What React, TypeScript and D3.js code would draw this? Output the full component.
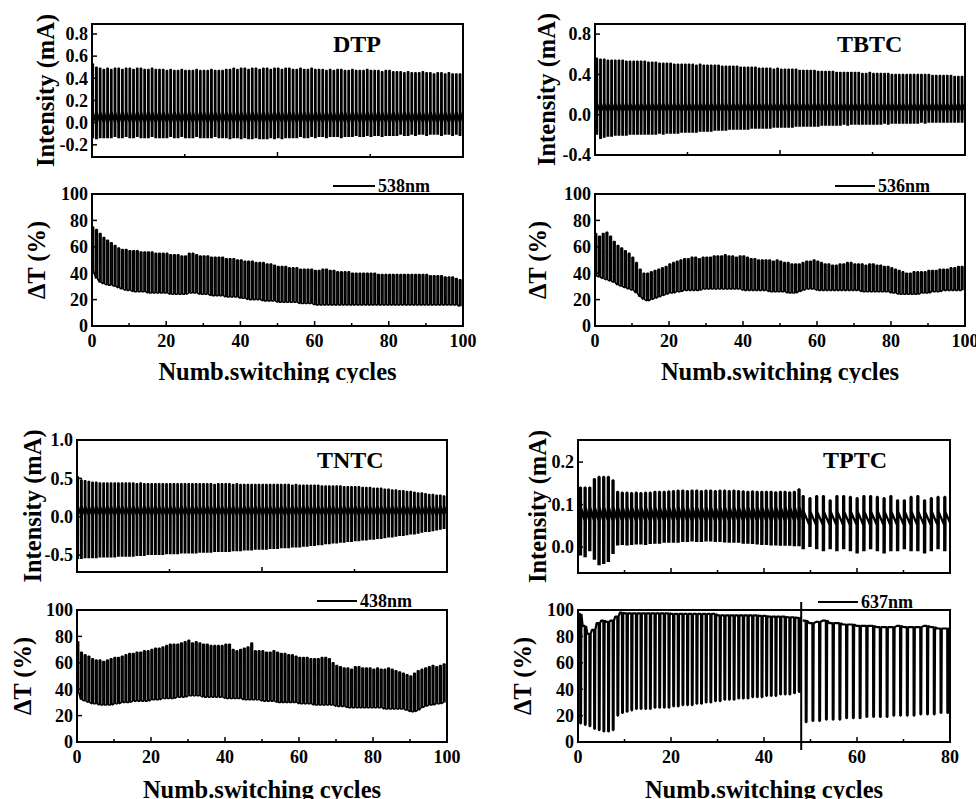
import React from 'react';
import * as d3 from 'd3';

const W = 976;
const H = 799;
const FONT = "'Liberation Serif', 'Times New Roman', serif";

// ---- DTP (538nm) ----
const dtpPeak = [0.53,0.50,0.49,0.48,0.49,0.48,0.49,0.49,0.48,0.49,
  0.49,0.48,0.49,0.49,0.48,0.48,0.49,0.48,0.48,0.48,
  0.47,0.48,0.47,0.47,0.48,0.47,0.47,0.47,0.48,0.47,
  0.47,0.47,0.48,0.47,0.47,0.47,0.48,0.48,0.49,0.48,
  0.49,0.49,0.48,0.49,0.49,0.48,0.49,0.49,0.48,0.49,
  0.49,0.48,0.49,0.49,0.48,0.48,0.49,0.48,0.48,0.49,
  0.48,0.48,0.48,0.47,0.48,0.47,0.48,0.48,0.47,0.47,
  0.48,0.47,0.47,0.47,0.48,0.47,0.47,0.47,0.46,0.47,
  0.47,0.46,0.46,0.46,0.45,0.46,0.45,0.45,0.45,0.46,
  0.45,0.45,0.44,0.45,0.45,0.44,0.45,0.44,0.44,0.44];
const dtpTrough = [-0.14,-0.15,-0.14,-0.14,-0.14,-0.14,-0.13,-0.14,-0.14,-0.13,
  -0.14,-0.14,-0.13,-0.14,-0.14,-0.14,-0.13,-0.14,-0.14,-0.14,
  -0.14,-0.13,-0.14,-0.14,-0.13,-0.14,-0.14,-0.14,-0.13,-0.14,
  -0.14,-0.14,-0.14,-0.13,-0.14,-0.14,-0.14,-0.15,-0.14,-0.14,
  -0.15,-0.14,-0.15,-0.15,-0.14,-0.15,-0.15,-0.15,-0.14,-0.15,
  -0.14,-0.15,-0.14,-0.14,-0.14,-0.14,-0.13,-0.14,-0.14,-0.13,
  -0.14,-0.13,-0.13,-0.14,-0.13,-0.13,-0.13,-0.14,-0.13,-0.13,
  -0.13,-0.12,-0.13,-0.13,-0.12,-0.13,-0.12,-0.12,-0.13,-0.12,
  -0.12,-0.12,-0.12,-0.11,-0.12,-0.12,-0.11,-0.12,-0.11,-0.11,
  -0.12,-0.11,-0.11,-0.11,-0.12,-0.11,-0.11,-0.12,-0.11,-0.12];
const dtpHigh = [75,73,70,67,65,63,61,59,58,58,
  57,57,57,56,56,56,56,55,55,55,
  55,54,54,54,53,53,55,55,54,53,
  53,53,52,52,52,52,51,51,51,50,
  50,49,49,49,48,48,48,47,47,46,
  45,45,45,44,44,44,43,43,43,43,
  42,42,43,43,42,42,41,41,41,41,
  40,40,40,40,40,40,40,39,39,39,
  39,39,39,39,39,39,39,39,39,39,
  39,38,38,38,38,37,37,37,36,35];
const dtpLow = [42,36,33,32,31,31,30,29,28,27,
  27,26,26,26,26,25,25,25,25,25,
  25,24,24,24,24,24,25,25,25,24,
  24,24,23,23,23,23,22,22,22,22,
  21,21,20,20,20,20,19,19,19,19,
  18,18,18,18,18,18,17,17,17,17,
  16,16,16,16,16,16,16,16,16,16,
  16,16,16,16,16,16,16,16,16,16,
  16,16,16,16,16,16,16,16,16,16,
  16,16,16,16,16,16,16,16,16,15];

// ---- TBTC (536nm) ----
const tbtcPeak = [0.56,0.55,0.55,0.54,0.54,0.54,0.54,0.54,0.53,0.53,
  0.53,0.53,0.53,0.53,0.52,0.52,0.52,0.51,0.51,0.51,
  0.51,0.50,0.50,0.50,0.50,0.50,0.50,0.49,0.50,0.49,
  0.49,0.49,0.49,0.49,0.48,0.48,0.48,0.48,0.48,0.47,
  0.47,0.47,0.47,0.47,0.46,0.46,0.46,0.46,0.45,0.46,
  0.45,0.45,0.45,0.45,0.45,0.44,0.44,0.44,0.44,0.44,
  0.43,0.43,0.43,0.43,0.43,0.42,0.42,0.42,0.42,0.42,
  0.42,0.42,0.41,0.41,0.42,0.41,0.41,0.41,0.41,0.41,
  0.40,0.40,0.40,0.40,0.40,0.40,0.40,0.40,0.40,0.40,
  0.40,0.39,0.39,0.39,0.39,0.39,0.39,0.38,0.38,0.38];
const tbtcTrough = [-0.20,-0.24,-0.23,-0.22,-0.22,-0.21,-0.21,-0.21,-0.21,-0.20,
  -0.20,-0.20,-0.20,-0.20,-0.20,-0.20,-0.20,-0.19,-0.20,-0.19,
  -0.19,-0.19,-0.19,-0.18,-0.18,-0.18,-0.18,-0.18,-0.17,-0.17,
  -0.17,-0.17,-0.16,-0.16,-0.16,-0.16,-0.15,-0.15,-0.15,-0.15,
  -0.15,-0.15,-0.14,-0.14,-0.14,-0.14,-0.14,-0.14,-0.13,-0.13,
  -0.13,-0.13,-0.13,-0.13,-0.12,-0.12,-0.12,-0.12,-0.12,-0.12,
  -0.12,-0.11,-0.11,-0.11,-0.11,-0.11,-0.11,-0.10,-0.11,-0.10,
  -0.10,-0.10,-0.10,-0.10,-0.10,-0.10,-0.10,-0.10,-0.09,-0.10,
  -0.09,-0.09,-0.09,-0.09,-0.09,-0.09,-0.09,-0.09,-0.08,-0.09,
  -0.08,-0.08,-0.08,-0.08,-0.08,-0.08,-0.08,-0.08,-0.08,-0.08];
const tbtcHigh = [70,68,70,71,68,64,61,59,57,55,
  52,48,43,40,40,41,42,43,44,45,
  47,48,49,50,51,51,52,52,51,52,
  52,52,53,53,53,54,53,53,52,53,
  53,52,51,51,50,50,50,50,49,50,
  49,48,48,47,47,47,48,49,49,50,
  49,48,47,47,46,46,47,47,48,48,
  47,47,47,46,47,47,46,46,45,45,
  44,43,42,41,40,40,41,41,41,41,
  42,42,42,43,43,43,44,44,45,45];
const tbtcLow = [38,37,36,35,34,33,31,30,29,28,
  27,25,22,20,19,20,21,22,23,24,
  25,25,26,26,27,27,27,27,27,28,
  28,28,28,28,28,28,28,28,28,28,
  27,27,27,27,27,27,27,26,26,26,
  26,26,25,25,25,26,27,28,28,28,
  27,27,27,27,27,27,27,27,27,27,
  27,27,26,26,26,26,26,26,26,26,
  25,25,24,24,24,24,24,24,25,25,
  25,26,26,26,27,27,27,27,27,27];

// ---- TNTC (438nm) ----
const tntcPeak = [0.52,0.48,0.47,0.46,0.45,0.45,0.44,0.44,0.44,0.44,
  0.44,0.44,0.44,0.44,0.44,0.44,0.43,0.44,0.43,0.43,
  0.43,0.43,0.43,0.43,0.43,0.43,0.43,0.43,0.43,0.43,
  0.43,0.43,0.43,0.43,0.43,0.43,0.43,0.42,0.43,0.43,
  0.43,0.43,0.42,0.43,0.42,0.42,0.42,0.42,0.42,0.42,
  0.42,0.42,0.42,0.42,0.42,0.42,0.42,0.42,0.41,0.42,
  0.41,0.41,0.41,0.41,0.41,0.41,0.40,0.40,0.40,0.40,
  0.40,0.40,0.39,0.39,0.39,0.39,0.39,0.38,0.38,0.38,
  0.37,0.37,0.37,0.36,0.36,0.35,0.35,0.34,0.34,0.33,
  0.33,0.32,0.31,0.31,0.30,0.29,0.29,0.28,0.28,0.27];
const tntcTrough = [-0.55,-0.55,-0.54,-0.54,-0.54,-0.54,-0.53,-0.53,-0.53,-0.53,
  -0.53,-0.52,-0.52,-0.52,-0.52,-0.52,-0.51,-0.51,-0.51,-0.50,
  -0.50,-0.50,-0.50,-0.50,-0.49,-0.49,-0.49,-0.49,-0.48,-0.48,
  -0.48,-0.48,-0.48,-0.47,-0.47,-0.47,-0.47,-0.46,-0.46,-0.46,
  -0.46,-0.46,-0.45,-0.45,-0.45,-0.44,-0.44,-0.44,-0.43,-0.43,
  -0.43,-0.43,-0.42,-0.42,-0.42,-0.41,-0.41,-0.41,-0.40,-0.40,
  -0.40,-0.39,-0.39,-0.38,-0.38,-0.37,-0.37,-0.36,-0.36,-0.35,
  -0.35,-0.34,-0.34,-0.33,-0.33,-0.32,-0.32,-0.31,-0.31,-0.30,
  -0.30,-0.29,-0.29,-0.28,-0.27,-0.27,-0.26,-0.25,-0.25,-0.24,
  -0.23,-0.23,-0.22,-0.21,-0.20,-0.20,-0.19,-0.18,-0.17,-0.16];
const tntcHigh = [76,68,66,65,63,62,62,61,62,63,
  64,64,65,66,67,67,68,68,69,69,
  70,71,71,72,73,74,74,74,75,76,
  77,75,76,75,74,74,73,73,73,73,
  74,74,70,69,70,71,72,75,69,69,
  69,68,68,69,68,67,67,66,66,65,
  64,64,64,63,63,63,64,64,63,60,
  58,57,56,56,55,57,57,56,56,56,
  55,56,55,55,56,55,54,53,52,51,
  50,52,54,55,56,57,58,57,58,59];
const tntcLow = [38,32,31,30,29,29,28,28,28,28,
  29,29,30,30,30,31,31,31,31,31,
  32,32,32,33,33,33,33,34,34,34,
  35,35,35,35,34,34,34,34,34,34,
  33,33,33,33,33,32,32,32,32,32,
  31,31,31,31,30,30,30,30,30,30,
  29,29,29,29,28,28,28,28,28,28,
  27,27,27,26,26,26,26,26,26,26,
  26,26,26,25,25,25,25,25,25,24,
  23,23,24,26,27,28,28,29,29,30];

// ---- TPTC (637nm), two runs split at cycle 48 ----
const tptcPeakA = [0.14,0.14,0.14,0.16,0.165,0.165,0.165,0.157,0.13,0.128,
  0.128,0.127,0.128,0.127,0.128,0.128,0.13,0.13,0.13,0.131,
  0.132,0.133,0.133,0.132,0.133,0.133,0.132,0.133,0.133,0.132,
  0.133,0.133,0.132,0.133,0.132,0.131,0.13,0.131,0.13,0.13,
  0.13,0.13,0.129,0.13,0.13,0.129,0.13,0.136];
const tptcTroughA = [-0.02,-0.024,-0.01,-0.03,-0.043,-0.04,-0.035,-0.016,0.004,0.005,
  0.004,0.005,0.006,0.006,0.005,0.007,0.008,0.008,0.01,0.01,
  0.01,0.01,0.012,0.012,0.013,0.012,0.012,0.013,0.013,0.012,
  0.012,0.011,0.01,0.01,0.01,0.008,0.008,0.007,0.006,0.005,
  0.005,0.004,0.004,0.003,0.003,0.003,0.002,0.002];
const tptcPeakB = [0.12,0.115,0.12,0.12,0.11,0.12,0.12,0.118,0.115,0.12,0.12,
  0.118,0.115,0.12,0.11,0.11,0.118,0.12,0.11,0.115,0.118,0.118];
const tptcTroughB = [-0.005,0.0,-0.005,-0.01,-0.005,-0.01,-0.005,-0.01,-0.015,-0.01,-0.005,
  -0.01,-0.015,-0.01,-0.01,-0.005,-0.01,-0.01,-0.015,-0.01,-0.005,-0.01];
const tptcHighA = [97,88,82,85,90,92,91,92,95,98,
  97.5,97.5,97.5,97.5,97.5,97.5,97.5,97.5,97.5,97.5,
  97,97,97,97,97,97,97,97,97,97,
  96,96,96,96,96,96,96,96,96,95.5,
  95.5,95,95,95,95,94.5,94.5,94];
const tptcLowA = [14,13,12,10,9,8,8,9,20,22,
  23,24,25,25,25,25,26,26,26,26,
  27,27,28,28,28,29,29,30,30,31,
  31,32,32,32,33,33,33,34,34,34,
  35,35,35,36,36,36,37,38];
const tptcHighB = [92,90,91,92,90,90,89,89,88,88,88,87,87,87,88,87,87,87,88,87,86,86];
const tptcLowB = [15,16,16,17,17,17,18,18,18,19,19,19,19,20,20,20,20,21,21,21,22,22];
const tptcSwitch = 48;

type Pt = [number, number];
type Run = { start: number; step: number; up: number[]; down: number[]; bHi?: number; bLo?: number };
type Frame = { x0: number; x1: number; y0: number; y1: number };

// intensity: bipolar spike per cycle, trace settles back on a baseline band
function spikes(r: Run, w: number): Pt[] {
  const pts: Pt[] = [];
  r.up.forEach((p, k) => {
    const x = r.start + k * r.step;
    const t = r.down[k];
    pts.push([x, r.bLo!], [x, t], [x + 0.01, p], [x + w, p], [x + w + 0.01, t], [x + w + 0.05, r.bHi!]);
  });
  pts.push([r.start + r.up.length * r.step, r.bLo!]);
  return pts;
}

// transmittance: bleached/colored square steps
function steps(r: Run, w: number): Pt[] {
  const pts: Pt[] = [];
  r.up.forEach((hi, k) => {
    const x = r.start + k * r.step;
    const lo = r.down[k];
    pts.push([x, lo], [x, hi], [x + w, hi], [x + w, lo]);
  });
  return pts;
}

// transmittance with short dips (TPTC)
function dips(r: Run, w: number): Pt[] {
  const pts: Pt[] = [];
  r.up.forEach((hi, k) => {
    const x = r.start + k * r.step;
    const a = r.step * 0.45;
    pts.push([x, hi], [x + a, hi], [x + a + 0.03, r.down[k]], [x + a + w, r.down[k]], [x + a + w + 0.08, hi]);
  });
  pts.push([r.start + r.up.length * r.step, r.up[r.up.length - 1]]);
  return pts;
}

interface Panel {
  id: string;
  f: Frame;
  xDomain: [number, number];
  yDomain: [number, number];
  yTicks: number[];
  yFmt: (v: number) => string;
  xMajor: number[];
  xMinor: number[];
  xLabels: boolean;
  paths: Pt[][];
  stroke: number;
  yTitle: string;
  yTitleX: number;
  xTitle?: { y: number; clip?: number };
  title?: { text: string; x: number; y: number };
  legend?: { text: string; x0: number; x1: number; y: number };
  vline?: { x: number; y0: number; y1: number };
}

const f1 = (v: number) => v.toFixed(1);
const f0 = (v: number) => String(v);

const panels: Panel[] = [
  {
    id: 'dtpI', f: { x0: 92, x1: 463, y0: 24, y1: 157 }, xDomain: [0, 100], yDomain: [-0.31, 0.89],
    yTicks: [-0.2, 0, 0.2, 0.4, 0.6, 0.8], yFmt: f1, xMajor: [50], xMinor: [25, 75], xLabels: false,
    paths: [spikes({ start: 0, step: 1, up: dtpPeak, down: dtpTrough, bHi: 0.09, bLo: 0.0 }, 0.38)],
    stroke: 1.45,
    yTitle: 'Intensity (mA)', yTitleX: 45, title: { text: 'DTP', x: 333, y: 52 },
  },
  {
    id: 'dtpT', f: { x0: 92, x1: 463, y0: 194, y1: 326 }, xDomain: [0, 100], yDomain: [0, 100],
    yTicks: [0, 20, 40, 60, 80, 100], yFmt: f0, xMajor: [0, 20, 40, 60, 80, 100], xMinor: [10, 30, 50, 70, 90], xLabels: true,
    paths: [steps({ start: 0, step: 1, up: dtpHigh, down: dtpLow }, 0.44)],
    stroke: 1.6,
    yTitle: 'ΔT (%)', yTitleX: 36.5, xTitle: { y: 380, clip: 383 },
    legend: { text: '538nm', x0: 333, x1: 375, y: 186 },
  },
  {
    id: 'tbtcI', f: { x0: 595, x1: 965, y0: 24, y1: 155 }, xDomain: [0, 100], yDomain: [-0.4, 0.9],
    yTicks: [-0.4, 0, 0.4, 0.8], yFmt: f1, xMajor: [50], xMinor: [25, 75], xLabels: false,
    paths: [spikes({ start: 0.3, step: 0.997, up: tbtcPeak, down: tbtcTrough, bHi: 0.11, bLo: 0.03 }, 0.38)],
    stroke: 1.45,
    yTitle: 'Intensity (mA)', yTitleX: 546, title: { text: 'TBTC', x: 837, y: 52 },
  },
  {
    id: 'tbtcT', f: { x0: 595, x1: 965, y0: 194, y1: 326 }, xDomain: [0, 100], yDomain: [0, 100],
    yTicks: [0, 20, 40, 60, 80, 100], yFmt: f0, xMajor: [0, 20, 40, 60, 80, 100], xMinor: [10, 30, 50, 70, 90], xLabels: true,
    paths: [steps({ start: 0, step: 1, up: tbtcHigh, down: tbtcLow }, 0.44)],
    stroke: 1.6,
    yTitle: 'ΔT (%)', yTitleX: 537, xTitle: { y: 380, clip: 383 },
    legend: { text: '536nm', x0: 835, x1: 875, y: 186 },
  },
  {
    id: 'tntcI', f: { x0: 77, x1: 447, y0: 440, y1: 572 }, xDomain: [0, 100], yDomain: [-0.72, 1.0],
    yTicks: [-0.5, 0, 0.5, 1.0], yFmt: f1, xMajor: [50], xMinor: [25, 75], xLabels: false,
    paths: [spikes({ start: 0, step: 1, up: tntcPeak, down: tntcTrough, bHi: 0.13, bLo: 0.02 }, 0.38)],
    stroke: 1.45,
    yTitle: 'Intensity (mA)', yTitleX: 32, title: { text: 'TNTC', x: 317, y: 468 },
  },
  {
    id: 'tntcT', f: { x0: 77, x1: 447, y0: 610, y1: 742 }, xDomain: [0, 100], yDomain: [0, 100],
    yTicks: [0, 20, 40, 60, 80, 100], yFmt: f0, xMajor: [0, 20, 40, 60, 80, 100], xMinor: [10, 30, 50, 70, 90], xLabels: true,
    paths: [steps({ start: 0, step: 1, up: tntcHigh, down: tntcLow }, 0.44)],
    stroke: 1.6,
    yTitle: 'ΔT (%)', yTitleX: 22.5, xTitle: { y: 798 },
    legend: { text: '438nm', x0: 317, x1: 357, y: 601 },
  },
  {
    id: 'tptcI', f: { x0: 578, x1: 950, y0: 440, y1: 573 }, xDomain: [0, 80], yDomain: [-0.061, 0.252],
    yTicks: [0, 0.1, 0.2], yFmt: f1, xMajor: [20, 40, 60], xMinor: [10, 30, 50, 70], xLabels: false,
    paths: [
      spikes({ start: 0.4, step: 1, up: tptcPeakA, down: tptcTroughA, bHi: 0.092, bLo: 0.062 }, 0.25),
      spikes({ start: 48.3, step: 1.45, up: tptcPeakB, down: tptcTroughB, bHi: 0.082, bLo: 0.052 }, 0.25),
    ],
    stroke: 2.2,
    yTitle: 'Intensity (mA)', yTitleX: 537, title: { text: 'TPTC', x: 823, y: 468 },
  },
  {
    id: 'tptcT', f: { x0: 578, x1: 950, y0: 610, y1: 742 }, xDomain: [0, 80], yDomain: [0, 100],
    yTicks: [0, 20, 40, 60, 80, 100], yFmt: f0, xMajor: [0, 20, 40, 60, 80], xMinor: [10, 30, 50, 70], xLabels: true,
    paths: [
      dips({ start: 0, step: 1, up: tptcHighA, down: tptcLowA }, 0.2),
      dips({ start: 48.3, step: 1.45, up: tptcHighB, down: tptcLowB }, 0.2),
    ],
    stroke: 2.2,
    yTitle: 'ΔT (%)', yTitleX: 522.5, xTitle: { y: 798 },
    legend: { text: '637nm', x0: 818, x1: 858, y: 602 },
    vline: { x: tptcSwitch, y0: 602, y1: 750 },
  },
];

const txt = { fontFamily: FONT, fontWeight: 'bold' as const };

function PanelView({ p }: { p: Panel }) {
  const { f } = p;
  const x = d3.scaleLinear().domain(p.xDomain).range([f.x0, f.x1]);
  const y = d3.scaleLinear().domain(p.yDomain).range([f.y1, f.y0]);
  const line = d3.line<Pt>().x(d => x(d[0])).y(d => y(d[1]));
  const cx = (f.x0 + f.x1) / 2;
  const cy = (f.y0 + f.y1) / 2;
  return (
    <g>
      <defs>
        <clipPath id={`clip-${p.id}`}>
          <rect x={f.x0} y={f.y0} width={f.x1 - f.x0} height={f.y1 - f.y0} />
        </clipPath>
        {p.xTitle?.clip && (
          <clipPath id={`tclip-${p.id}`}>
            <rect x={0} y={0} width={W} height={p.xTitle.clip} />
          </clipPath>
        )}
      </defs>
      <g clipPath={`url(#clip-${p.id})`}>
        {p.paths.map((pts, i) => (
          <path key={i} d={line(pts) || ''} fill="none" stroke="#000" strokeWidth={p.stroke} strokeLinejoin="bevel" />
        ))}
      </g>
      <rect x={f.x0} y={f.y0} width={f.x1 - f.x0} height={f.y1 - f.y0} fill="none" stroke="#000" strokeWidth={2} />
      {p.yTicks.map(v => (
        <g key={`y${v}`}>
          <line x1={f.x0} x2={f.x0 + 5} y1={y(v)} y2={y(v)} stroke="#000" strokeWidth={1.5} />
          <text x={f.x0 - 4} y={y(v)} dy="0.35em" textAnchor="end" fontSize={18} style={txt}>{p.yFmt(v)}</text>
        </g>
      ))}
      {p.xMajor.map(v => (
        <g key={`x${v}`}>
          <line x1={x(v)} x2={x(v)} y1={f.y1} y2={f.y1 - 5} stroke="#000" strokeWidth={1.5} />
          {p.xLabels && (
            <text x={x(v)} y={f.y1 + 20.5} textAnchor="middle" fontSize={18} style={txt}>{v}</text>
          )}
        </g>
      ))}
      {p.xMinor.map(v => (
        <line key={`m${v}`} x1={x(v)} x2={x(v)} y1={f.y1} y2={f.y1 - 3} stroke="#000" strokeWidth={1.5} />
      ))}
      <text transform={`translate(${p.yTitleX},${cy}) rotate(-90)`} dy="0.35em" textAnchor="middle" fontSize={24.5} style={txt}>
        {p.yTitle}
      </text>
      {p.xTitle && (
        <text x={cx} y={p.xTitle.y} textAnchor="middle" fontSize={24.5} style={txt}
          clipPath={p.xTitle.clip ? `url(#tclip-${p.id})` : undefined}>
          Numb.switching cycles
        </text>
      )}
      {p.title && (
        <text x={p.title.x} y={p.title.y} fontSize={24} style={txt}>{p.title.text}</text>
      )}
      {p.legend && (
        <g>
          <line x1={p.legend.x0} x2={p.legend.x1} y1={p.legend.y} y2={p.legend.y} stroke="#000" strokeWidth={2} />
          <text x={p.legend.x1 + 3} y={p.legend.y} dy="0.33em" fontSize={18} style={txt}>{p.legend.text}</text>
        </g>
      )}
      {p.vline && (
        <line x1={x(p.vline.x)} x2={x(p.vline.x)} y1={p.vline.y0} y2={p.vline.y1} stroke="#000" strokeWidth={2} />
      )}
    </g>
  );
}

export default function App() {
  return (
    <svg width={W} height={H} viewBox={`0 0 ${W} ${H}`}
      style={{ position: 'absolute', left: 0, top: 0, background: '#fff', fontFamily: FONT }}>
      {panels.map(p => <PanelView key={p.id} p={p} />)}
    </svg>
  );
}
